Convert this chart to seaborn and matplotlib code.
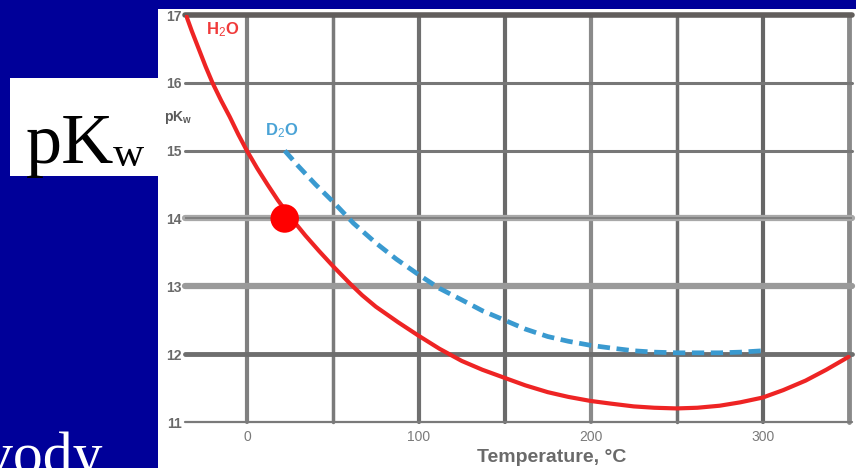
import matplotlib
matplotlib.use("Agg")
import matplotlib.pyplot as plt
import seaborn as sns
import pandas as pd
from matplotlib.patches import Rectangle

# ---- data ----
h2o_temp = [-36, -32, -28, -24, -20, -15, -10, -5, 0, 6, 12, 18, 25, 34, 42, 50, 60, 67, 75, 88, 100,
            112, 125, 137, 150, 162, 175, 187, 200, 212, 225, 237, 250, 262, 275, 287, 300, 312,
            325, 337, 350]
h2o_pkw = [17.04, 16.76, 16.5, 16.24, 16.0, 15.74, 15.5, 15.24, 15.0, 14.74, 14.5, 14.27, 14.03,
           13.75, 13.52, 13.3, 13.04, 12.87, 12.7, 12.47, 12.27, 12.08, 11.9, 11.77, 11.65, 11.54, 11.44,
           11.37, 11.31, 11.27, 11.23, 11.21, 11.2, 11.21, 11.24, 11.29, 11.36, 11.47, 11.61,
           11.77, 11.96]
d2o_temp = [22, 30, 40, 50, 62, 75, 87, 100, 112, 125, 137, 150, 162, 175, 187, 200, 212, 225,
            237, 250, 262, 275, 287, 300]
d2o_pkw = [15.0, 14.77, 14.5, 14.25, 13.93, 13.64, 13.4, 13.17, 12.97, 12.8, 12.64, 12.5, 12.37,
           12.26, 12.19, 12.13, 12.09, 12.05, 12.03, 12.02, 12.02, 12.02, 12.03, 12.05]
dot_temp = [22]
dot_pkw = [14.0]
x_ticks = [0, 100, 200, 300]
x_grid = [0, 50, 100, 150, 200, 250, 300, 350]
y_ticks = [11, 12, 13, 14, 15, 16, 17]
series_labels = ["H$_2$O", "D$_2$O"]
x_label = "Temperature, °C"
y_label = r"$\mathbf{pK}_{\mathbf{w}}$"
side_label = ("pK", "w")
bottom_text = "vody"

W, H = 856, 468
sns.set_style("white")
plt.rcParams["font.family"] = ["Liberation Sans", "DejaVu Sans"]
plt.rcParams["mathtext.fontset"] = "custom"
plt.rcParams["mathtext.rm"] = "Liberation Sans"
plt.rcParams["mathtext.bf"] = "Liberation Sans:bold"
plt.rcParams["mathtext.it"] = "Liberation Sans:italic"


def fx(px):
    return px / W


def fy(py):
    return 1 - py / H


fig = plt.figure(figsize=(W / 100, H / 100), dpi=100, facecolor="#000099")
# white image area and the white label box
fig.patches.append(Rectangle((fx(158), 0), fx(856 - 158), (H - 9) / H, transform=fig.transFigure,
                             facecolor="white", edgecolor="none", zorder=-5))
fig.patches.append(Rectangle((fx(10), fy(176)), fx(150), (176 - 78) / H, transform=fig.transFigure,
                             facecolor="white", edgecolor="none", zorder=-5))

ax = fig.add_axes([fx(185), fy(422), fx(852 - 185), (422 - 15) / H])
ax.set_zorder(2)
ax.set_facecolor("white")
for s in ax.spines.values():
    s.set_visible(False)
ax.set_xlim(-36, 352)
ax.set_ylim(11, 17)

# grid lines
vstyles = {0: (3, "#808080"), 50: (2.5, "#7a7a7a"), 100: (3, "#6f6f6f"), 150: (3, "#6a6a6a"),
           200: (3, "#8a8a8a"), 250: (2.5, "#6f6f6f"), 300: (3, "#666666"), 350: (3.5, "#8a8a8a")}
for xv in x_grid:
    lw, c = vstyles[xv]
    ax.axvline(xv, color=c, lw=lw, zorder=1, clip_on=False)
hstyles = {11: (1.6, "#7a7a7a"), 12: (3.5, "#6e6e6e"), 13: (4.5, "#9a9a9a"), 14: (4.5, "#a8a8a8"),
           15: (2.2, "#777777"), 16: (2.2, "#777777"), 17: (4, "#625e5c")}
for yv in y_ticks:
    lw, c = hstyles[yv]
    ax.axhline(yv, color=c, lw=lw, zorder=1, clip_on=False)
ax.axhline(14, color="#7a7a7a", lw=1.2, zorder=1.1)

df_h = pd.DataFrame({"T": h2o_temp, "pKw": h2o_pkw})
df_d = pd.DataFrame({"T": d2o_temp, "pKw": d2o_pkw})
sns.lineplot(data=df_h, x="T", y="pKw", color="#ee2424", lw=3.0, sort=False, ax=ax, zorder=3)
sns.lineplot(data=df_d, x="T", y="pKw", color="#3a9ad0", lw=3.4, sort=False, ax=ax, zorder=3,
             dashes=False, linestyle=(0, (2.6, 1.4)))
sns.scatterplot(x=dot_temp, y=dot_pkw, color="#ff0000", s=420, edgecolor="none", ax=ax, zorder=5)

ax.set_xticks(x_ticks)
ax.set_xticklabels([str(v) for v in x_ticks], color="#7a7a7a", fontsize=10)
ax.set_yticks(y_ticks)
ax.set_yticklabels([str(v) for v in y_ticks], color="#6a6a6a", fontsize=10, fontweight="bold")
ax.tick_params(axis="both", length=0)
ax.tick_params(axis="y", pad=2.5)
ax.tick_params(axis="x", pad=6)
ax.set_xlabel("")
ax.set_ylabel("")

ax.text(-14, 16.78, series_labels[0], color="#f03a3a", fontsize=12, fontweight="bold",
        ha="center", va="center", zorder=4)
ax.text(20, 15.3, series_labels[1], color="#4aa3d6", fontsize=12, fontweight="bold",
        ha="center", va="center", zorder=4)

fig.text(fx(552), fy(457), x_label, color="#6a6a6a", fontsize=14, fontweight="bold",
         ha="center", va="center")
fig.text(fx(178), fy(117), y_label, color="#5a5a5a", fontsize=10, ha="center", va="center", zorder=6)

# slide texts
fig.text(fx(26), fy(163), side_label[0], family="Liberation Serif", fontsize=52, color="black",
         ha="left", va="baseline")
fig.text(fx(113), fy(166), side_label[1], family="Liberation Serif", fontsize=31, color="black",
         ha="left", va="baseline")
fig.text(fx(-17), fy(473), bottom_text, family="Liberation Serif", fontsize=43, color="white",
         ha="left", va="baseline")

fig.savefig("out.png", dpi=100, facecolor=fig.get_facecolor())
